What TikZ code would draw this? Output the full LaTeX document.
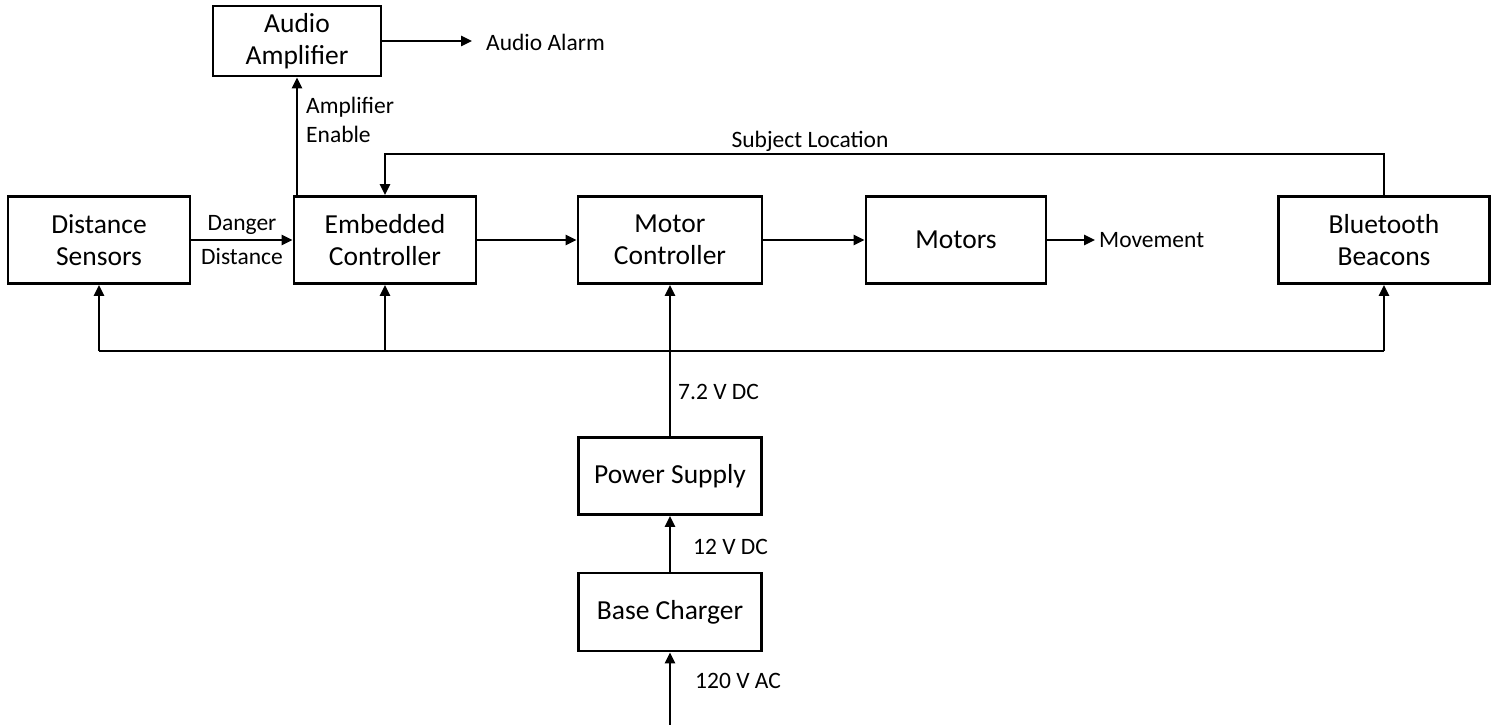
\documentclass[tikz,border=0pt]{standalone}
\usepackage{fontspec}
\setmainfont{Carlito}
\usetikzlibrary{arrows.meta}

\begin{document}
\begin{tikzpicture}[x=1pt, y=-1pt, line width=2.4pt,
    block/.style={draw, line width=2.8pt, align=center, inner sep=0pt,
      minimum height=87pt, font=\fontsize{27.5}{32.5}\selectfont},
    lbl/.style={font=\fontsize{23.5}{29}\selectfont, inner sep=0pt},
    arr/.style={-{Triangle[length=11pt, width=10pt]}}]
  \useasboundingbox (0,0) rectangle (1493,725);
  \node[block, minimum width=168pt, minimum height=70pt] (amp) at (297,41) {Audio\\Amplifier};
  \node[block, minimum width=182pt] (sensors) at (99,240) {Distance\\Sensors};
  \node[block, minimum width=182pt] (ctrl) at (385,240) {Embedded\\Controller};
  \node[block, minimum width=184pt] (motorctrl) at (670,240) {Motor\\Controller};
  \node[block, minimum width=180pt] (motors) at (956,240) {Motors};
  \node[block, minimum width=211pt] (beacons) at (1384,240) {Bluetooth\\Beacons};
  \node[block, minimum width=183pt, minimum height=77pt] (supply) at (670,476) {Power Supply};
  \node[block, minimum width=183pt, minimum height=78pt] (charger) at (670,612) {Base Charger};
  \coordinate (alarm) at (472,41);
  \coordinate (move) at (1095,240);
  \coordinate (busL) at (99,351);
  \coordinate (busR) at (1384,351);
  \coordinate (loc) at (1384,154);
  \coordinate (mains) at (670,725);
  % signal paths
  \draw[arr] (sensors.east) -- (ctrl.west);
  \node[lbl] at (242,225) {Danger};
  \node[lbl] at (242,256) {Distance};
  \draw[arr] (amp.south |- ctrl.north) -- (amp.south);
  \node[lbl, anchor=west, align=left] at (305,120) {Amplifier\\Enable};
  \draw[arr] (amp.east) -- (alarm);
  \node[lbl, anchor=west] at (485,42) {Audio Alarm};
  \draw[arr] (beacons.north) -- (loc) -| (ctrl.north);
  \node[lbl] at (810,141) {Subject Location};
  \draw[arr] (ctrl.east) -- (motorctrl.west);
  \draw[arr] (motorctrl.east) -- (motors.west);
  \draw[arr] (motors.east) -- (move);
  \node[lbl, anchor=west] at (1098,240) {Movement};
  % power
  \draw (busL) -- (busR);
  \draw[arr] (busL) -- (sensors.south);
  \draw[arr] (ctrl.south |- busL) -- (ctrl.south);
  \draw[arr] (busR) -- (beacons.south);
  \draw[arr] (supply.north) -- (motorctrl.south);
  \node[lbl, anchor=west] at (677,392) {7.2 V DC};
  \draw[arr] (charger.north) -- (supply.south);
  \node[lbl, anchor=west] at (692,547) {12 V DC};
  \draw[arr] (mains) -- (charger.south);
  \node[lbl, anchor=west] at (694,681) {120 V AC};
\end{tikzpicture}
\end{document}
